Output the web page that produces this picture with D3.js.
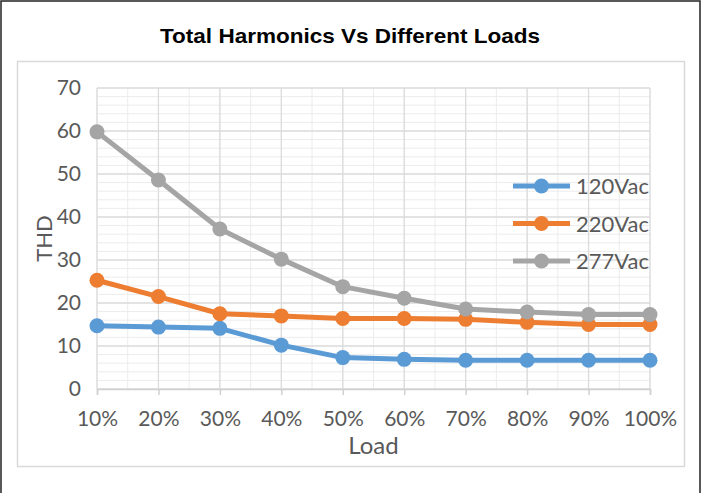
<!DOCTYPE html>
<html>
<head>
<meta charset="utf-8">
<script src="https://cdn.jsdelivr.net/npm/d3@7"></script>
<style>
  body { margin: 0; background: #fff; }
  text { font-family: Lato, "Open Sans", sans-serif; }
</style>
</head>
<body>
<svg id="chart" width="702" height="493"></svg>
<script>
var categories = ["10%", "20%", "30%", "40%", "50%", "60%", "70%", "80%", "90%", "100%"];
var seriesNames = ["120Vac", "220Vac", "277Vac"];
var v120 = [14.7, 14.4, 14.1, 10.2, 7.3, 6.9, 6.7, 6.7, 6.7, 6.7];
var v220 = [25.3, 21.5, 17.5, 17.0, 16.4, 16.4, 16.2, 15.5, 15.0, 15.0];
var v277 = [59.8, 48.6, 37.2, 30.2, 23.8, 21.1, 18.6, 17.9, 17.3, 17.3];
var yTicks = [0, 10, 20, 30, 40, 50, 60, 70];
var colors = ["#5B9BD5", "#ED7D31", "#A5A5A5"];

var svg = d3.select("#chart"),
    margin = {top: 88, right: 52, bottom: 104, left: 97},
    width = +svg.attr("width") - margin.left - margin.right,
    height = +svg.attr("height") - margin.top - margin.bottom;

// outer frame + inner panel
svg.append("rect").attr("x", 1).attr("y", 1).attr("width", 699).attr("height", 530)
    .attr("fill", "none").attr("stroke", "#222").attr("stroke-width", 1.5);
svg.append("rect").attr("x", 17.5).attr("y", 61.5).attr("width", 667).attr("height", 405)
    .attr("fill", "none").attr("stroke", "#d9d9d9").attr("stroke-width", 1.5);

svg.append("text")
    .attr("x", 350).attr("y", 43)
    .attr("text-anchor", "middle")
    .style("font-family", "'Liberation Sans', Arial, sans-serif")
    .style("font-weight", "bold").style("font-size", "21px")
    .attr("textLength", 380).attr("lengthAdjust", "spacingAndGlyphs")
    .text("Total Harmonics Vs Different Loads");

var x = d3.scalePoint().domain(categories).range([0, width]);
var y = d3.scaleLinear().domain([0, 70]).range([height, 0]);

var g = svg.append("g")
    .attr("transform", "translate(" + margin.left + "," + margin.top + ")");

// minor grid
var step = x.step();
var minorX = d3.range(0, width + 0.1, step / 2);
g.selectAll(".vminor").data(minorX).enter().append("line")
    .attr("x1", function(d) { return d; }).attr("x2", function(d) { return d; })
    .attr("y1", 0).attr("y2", height)
    .attr("stroke", "#ececec").attr("stroke-width", 1);
g.selectAll(".hminor").data(d3.range(0, 70.1, 2)).enter().append("line")
    .attr("x1", 0).attr("x2", width)
    .attr("y1", function(d) { return y(d); }).attr("y2", function(d) { return y(d); })
    .attr("stroke", "#ececec").attr("stroke-width", 1);
// major grid
g.selectAll(".hmajor").data(yTicks).enter().append("line")
    .attr("x1", 0).attr("x2", width)
    .attr("y1", function(d) { return y(d); }).attr("y2", function(d) { return y(d); })
    .attr("stroke", "#dcdcdc").attr("stroke-width", 1.3);
g.selectAll(".vmajor").data(categories).enter().append("line")
    .attr("x1", function(d) { return x(d); }).attr("x2", function(d) { return x(d); })
    .attr("y1", 0).attr("y2", height)
    .attr("stroke", "#dcdcdc").attr("stroke-width", 1.3);

// x axis
var xAxis = g.append("g")
    .attr("transform", "translate(0," + height + ")")
    .call(d3.axisBottom(x).tickSize(6).tickPadding(16));
xAxis.select(".domain").attr("stroke", "#d0d0d0").attr("stroke-width", 1.5);
xAxis.selectAll("line").attr("stroke", "#d0d0d0").attr("stroke-width", 1.5);
xAxis.selectAll("text").style("font-size", "21px").attr("fill", "#595959")
    .style("font-family", "Lato, sans-serif");

// y axis
var yAxis = g.append("g")
    .call(d3.axisLeft(y).tickValues(yTicks).tickSize(0).tickPadding(16));
yAxis.select(".domain").remove();
yAxis.selectAll("text").style("font-size", "21px").attr("fill", "#595959")
    .style("font-family", "Lato, sans-serif");

svg.append("text")
    .attr("transform", "translate(52," + (margin.top + height / 2) + ") rotate(-90)")
    .attr("text-anchor", "middle")
    .style("font-size", "22px").attr("fill", "#595959")
    .text("THD");
svg.append("text")
    .attr("x", margin.left + width / 2).attr("y", 454)
    .attr("text-anchor", "middle")
    .style("font-size", "24px").attr("fill", "#595959")
    .text("Load");

var series = [v120, v220, v277];
var line = d3.line()
    .x(function(d, i) { return x(categories[i]); })
    .y(function(d) { return y(d); });

series.forEach(function(vals, s) {
    g.append("path").datum(vals)
        .attr("d", line)
        .attr("fill", "none")
        .attr("stroke", colors[s])
        .attr("stroke-width", 5)
        .attr("stroke-linejoin", "round");
    g.selectAll(".pt" + s).data(vals).enter().append("circle")
        .attr("cx", function(d, i) { return x(categories[i]); })
        .attr("cy", function(d) { return y(d); })
        .attr("r", 7.5)
        .attr("fill", colors[s]);
});

// legend
var legend = svg.append("g").attr("transform", "translate(513,186)");
seriesNames.forEach(function(name, i) {
    var row = legend.append("g").attr("transform", "translate(0," + (i * 37.5) + ")");
    row.append("line").attr("x1", 0).attr("x2", 57).attr("y1", 0).attr("y2", 0)
        .attr("stroke", colors[i]).attr("stroke-width", 5);
    row.append("circle").attr("cx", 28.5).attr("cy", 0).attr("r", 7.5).attr("fill", colors[i]);
    row.append("text").attr("x", 63).attr("y", 8)
        .style("font-size", "22px").attr("fill", "#595959").text(name);
});
</script>
</body>
</html>
